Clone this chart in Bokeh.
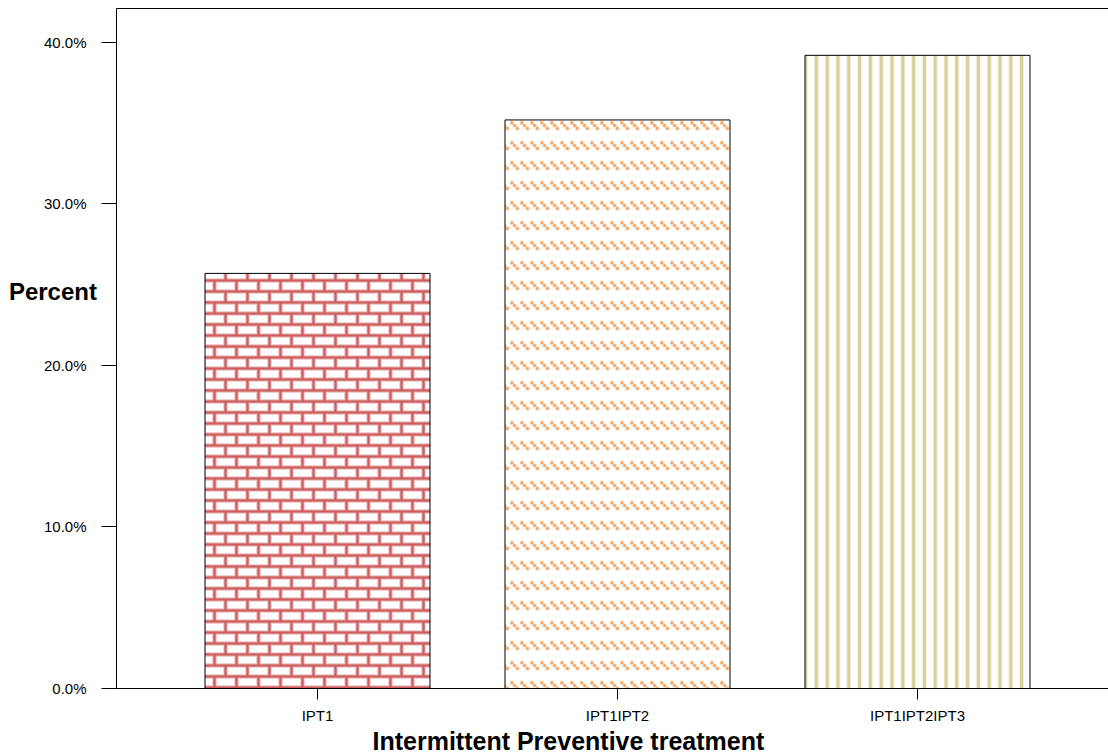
import base64
from bokeh.plotting import figure
from bokeh.models import (Range1d, FixedTicker, PrintfTickFormatter, LinearAxis,
                          ImageURLTexture, Title, ColumnDataSource)
from bokeh.embed import file_html
from bokeh.resources import INLINE

# ---- data ----
categories = ["IPT1", "IPT1IPT2", "IPT1IPT2IPT3"]
percent = [25.7, 35.2, 39.2]
y_ticks = [0, 10, 20, 30, 40]
x_title = "Intermittent Preventive treatment"
y_title = "Percent"

FONT = "Liberation Sans"

def svg_url(svg):
    return "data:image/svg+xml;base64," + base64.b64encode(svg.encode()).decode()

brick_lines = (
    "<line x1='0' y1='5.5' x2='22' y2='5.5'/><line x1='0' y1='16.5' x2='22' y2='16.5'/>"
    "<line x1='5.5' y1='5.5' x2='5.5' y2='16.5'/>"
    "<line x1='16.5' y1='16.5' x2='16.5' y2='22'/><line x1='16.5' y1='0' x2='16.5' y2='5.5'/>"
)
brick_svg = (
    "<svg xmlns='http://www.w3.org/2000/svg' width='22' height='22'>"
    "<rect width='22' height='22' fill='white'/>"
    "<g stroke='#efc2c2' stroke-width='4.6' fill='none'>" + brick_lines + "</g>"
    "<g stroke='#cd5c5c' stroke-width='2.2' fill='none'>" + brick_lines + "</g></svg>"
)
dots = "<circle cx='1.8' cy='2.8' r='{r}'/><circle cx='4.6' cy='5.6' r='{r}'/><circle cx='7.4' cy='8.4' r='{r}'/>"
dash_svg = (
    "<svg xmlns='http://www.w3.org/2000/svg' width='10' height='20'>"
    "<rect width='10' height='20' fill='white'/>"
    "<g fill='#fcd8b6'>" + dots.format(r=2.2) + "</g>"
    "<g fill='#f5a263'>" + dots.format(r=1.4) + "</g></svg>"
)

textures = {
    "brick": ImageURLTexture(url=svg_url(brick_svg)),
    "odash": ImageURLTexture(url=svg_url(dash_svg)),
}
patterns = ["brick", "odash", "vertical_line"]

p = figure(width=1108, height=754, output_backend="svg", toolbar_location=None,
           x_range=Range1d(0.33, 3.6367), y_range=Range1d(0, 42.1),
           min_border_left=116, min_border_right=0, min_border_top=8,
           min_border_bottom=66)
p.outline_line_color = None
p.grid.visible = False
p.background_fill_color = "white"

xs = [i + 1 for i in range(len(categories))]
for i in range(len(categories)):
    src = ColumnDataSource(dict(x=[xs[i]], top=[percent[i]], pat=[patterns[i]]))
    kw = dict(x="x", top="top", width=0.75, bottom=0, source=src,
              fill_color="white", line_color="black", line_width=1)
    if patterns[i] == "vertical_line":
        kw.update(hatch_pattern="vertical_line", hatch_color="#d8d09c",
                  hatch_scale=10.8, hatch_weight=3.6)
    else:
        kw.update(hatch_pattern="pat", hatch_extra=textures)
    p.vbar(**kw)

# axes
xa = p.xaxis[0]
xa.ticker = FixedTicker(ticks=xs)
xa.major_label_overrides = {x: c for x, c in zip(xs, categories)}
xa.major_tick_out = 11
xa.major_tick_in = 0
xa.minor_tick_line_color = None
xa.major_label_standoff = 7
xa.major_label_text_font = FONT
xa.major_label_text_font_size = "15px"
xa.major_label_text_color = "black"
xa.axis_line_color = "black"

ya = p.yaxis[0]
ya.ticker = FixedTicker(ticks=y_ticks)
ya.formatter = PrintfTickFormatter(format="%.1f%%")
ya.major_tick_out = 15
ya.major_tick_in = 0
ya.minor_tick_line_color = None
ya.major_label_standoff = 15
ya.major_label_text_font = FONT
ya.major_label_text_font_size = "15px"
ya.major_label_text_color = "black"
ya.axis_line_color = "black"
ya.axis_label = y_title + "\n\n\n\n"
ya.axis_label_orientation = "horizontal"
ya.axis_label_text_font = FONT
ya.axis_label_text_font_size = "24px"
ya.axis_label_text_font_style = "bold"
ya.axis_label_text_color = "black"
ya.axis_label_text_line_height = 1.06
ya.axis_label_standoff = -56

top_axis = LinearAxis(ticker=FixedTicker(ticks=[]), major_tick_out=0, major_tick_in=0,
                      minor_tick_out=0, minor_tick_in=0, major_label_standoff=0,
                      major_label_text_font_size="0px", axis_line_color="black")
p.add_layout(top_axis, "above")

p.add_layout(Title(text=x_title, align="left", offset=256, standoff=-3,
                   text_font=FONT, text_font_size="25px", text_font_style="bold",
                   text_color="black"), "below")

open("out.html", "w").write(file_html(p, INLINE))
